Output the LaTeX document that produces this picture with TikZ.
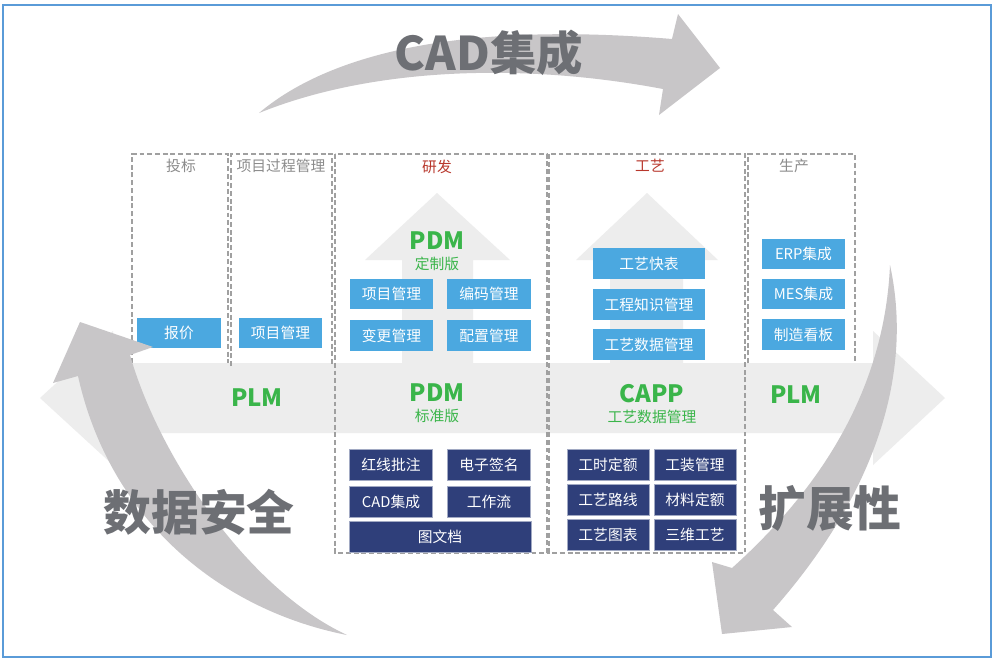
\documentclass[tikz,border=0pt]{standalone}
\usepackage{fontspec}
\setmainfont{Noto Sans CJK SC}
\usetikzlibrary{positioning}
\definecolor{boxblue}{HTML}{4BA8E0}
\definecolor{boxnavy}{HTML}{2F3F7A}
\definecolor{plmgreen}{HTML}{3AB54A}
\definecolor{headred}{HTML}{B8372C}
\definecolor{bandgray}{HTML}{EDEDED}
\definecolor{arrowgray}{HTML}{C8C6C8}
\definecolor{biggray}{HTML}{6D6F74}
\definecolor{titlegray}{HTML}{8C8C8C}
\definecolor{dashgray}{HTML}{A0A0A0}
\definecolor{frameblue}{HTML}{5A9BD8}
\begin{document}
\begin{tikzpicture}[x=0.025cm, y=-0.025cm,
    sbox/.style={fill=boxblue, text=white, font=\fontsize{10.5}{12}\selectfont,
                 inner sep=0pt, minimum width=2.08cm, minimum height=0.77cm},
    dbox/.style={sbox, fill=boxnavy, draw=boxnavy!45!white, line width=0.3pt},
    coltitle/.style={font=\fontsize{10.5}{12}\selectfont, text=titlegray},
    redtitle/.style={coltitle, text=headred},
    sysname/.style={font=\fontsize{17}{20}\selectfont\bfseries, text=plmgreen},
    syssub/.style={font=\fontsize{10.5}{12}\selectfont, text=plmgreen},
    big/.style={font=\fontsize{34}{40}\selectfont\bfseries, text=biggray},
    colframe/.style={draw=dashgray, line width=0.8pt, dash pattern=on 3.5pt off 2pt},
    band/.style={fill=bandgray},
    swoosh/.style={fill=arrowgray},
]
\useasboundingbox (0,0) rectangle (994,660);
\fill[white] (0,0) rectangle (994,660);
\draw[frameblue, line width=0.8pt] (3,5) rectangle (991,657);
\fill[swoosh] (259,113) .. controls (310,70) and (420,18) .. (672,39) -- (678,14) -- (720,68)
   -- (659,115) -- (663,89) .. controls (520,62) and (370,68) .. (259,113) -- cycle;
\fill[band] (40,398) -- (113,331) -- (113,363) -- (873,363) -- (873,331) -- (945,398)
   -- (873,465) -- (873,433) -- (113,433) -- (113,465) -- cycle;
\fill[band] (402,363) -- (402,260) -- (365,260) -- (437,193) -- (510,260) -- (473,260) -- (473,363) -- cycle;
\fill[band] (610,363) -- (610,260) -- (576,260) -- (647,193) -- (718,260) -- (683,260) -- (683,363) -- cycle;
\draw[colframe] (132,363) |- (228,154) -- (228,363);
\draw[colframe] (231,366) |- (332,154) -- (332,366);
\draw[colframe] (335,154) rectangle (547,553);
\draw[colframe] (549,154) rectangle (745,553);
\draw[colframe] (748,363) |- (855,154) -- (855,363);
\node[coltitle] (bid) at (181,166) {投标};
\node[coltitle] (proc) at (281,166) {项目过程管理};
\node[redtitle] (rd) at (437,167) {研发};
\node[redtitle] (tech) at (650,166) {工艺};
\node[coltitle] (prod) at (794,166) {生产};
\node[sbox] (quote) at (179,333) {报价};
\node[sbox] (projA) at (280.5,333) {项目管理};
\node[sysname] (pdmC) at (437,241) {PDM};
\node[syssub] (pdmCs) at (437,264) {定制版};
\node[sbox] (projB) at (391.5,294) {项目管理};
\node[sbox] (code) at (489,294) {编码管理};
\node[sbox] (chg) at (391.5,335.5) {变更管理};
\node[sbox] (cfg) at (489,335.5) {配置管理};
\node[sbox, minimum width=2.8cm] (quick) at (649,263.5) {工艺快表};
\node[sbox, minimum width=2.8cm] (know) at (649,304.5) {工程知识管理};
\node[sbox, minimum width=2.8cm] (tdata) at (649,344.5) {工艺数据管理};
\node[sbox] (erp) at (803.5,254) {ERP集成};
\node[sbox] (mes) at (803.5,294) {MES集成};
\node[sbox] (board) at (803.5,334.5) {制造看板};
\node[sysname] (plmL) at (257,398) {PLM};
\node[sysname] (pdmS) at (437,393) {PDM};
\node[syssub] (pdmSs) at (437,416) {标准版};
\node[sysname] (capp) at (652,394) {CAPP};
\node[syssub] (capps) at (652,417) {工艺数据管理};
\node[sysname] (plmR) at (796,395) {PLM};
\node[dbox] (red) at (391,464.5) {红线批注};
\node[dbox] (sign) at (489,464.5) {电子签名};
\node[dbox] (cad) at (391,501.5) {CAD集成};
\node[dbox] (flow) at (489,501.5) {工作流};
\node[dbox, minimum width=4.55cm] (docs) at (440,537) {图文档};
\node[dbox, minimum width=2.05cm] (hours) at (608,464.5) {工时定额};
\node[dbox, minimum width=2.05cm] (tool) at (695,464.5) {工装管理};
\node[dbox, minimum width=2.05cm] (route) at (608,500) {工艺路线};
\node[dbox, minimum width=2.05cm] (mat) at (695,500) {材料定额};
\node[dbox, minimum width=2.05cm] (chart) at (608,534.5) {工艺图表};
\node[dbox, minimum width=2.05cm] (threeD) at (695,534.5) {三维工艺};
\fill[swoosh] (347,635) .. controls (250,590) and (160,460) .. (130,355) -- (153,347) -- (80,322)
   -- (53,383) -- (78,376) .. controls (110,520) and (220,610) .. (347,635) -- cycle;
\fill[swoosh] (890,265) .. controls (915,380) and (870,500) .. (773,610) -- (792,627) -- (722,634)
   -- (712,562) -- (732,568) .. controls (830,480) and (885,380) .. (890,265) -- cycle;
\node[big, font=\fontsize{33}{40}\selectfont\bfseries] (cadint) at (489,53) {CAD集成};
\node[big] (secure) at (199,512) {数据安全};
\node[big] (extend) at (830,508) {扩展性};
\end{tikzpicture}
\end{document}
